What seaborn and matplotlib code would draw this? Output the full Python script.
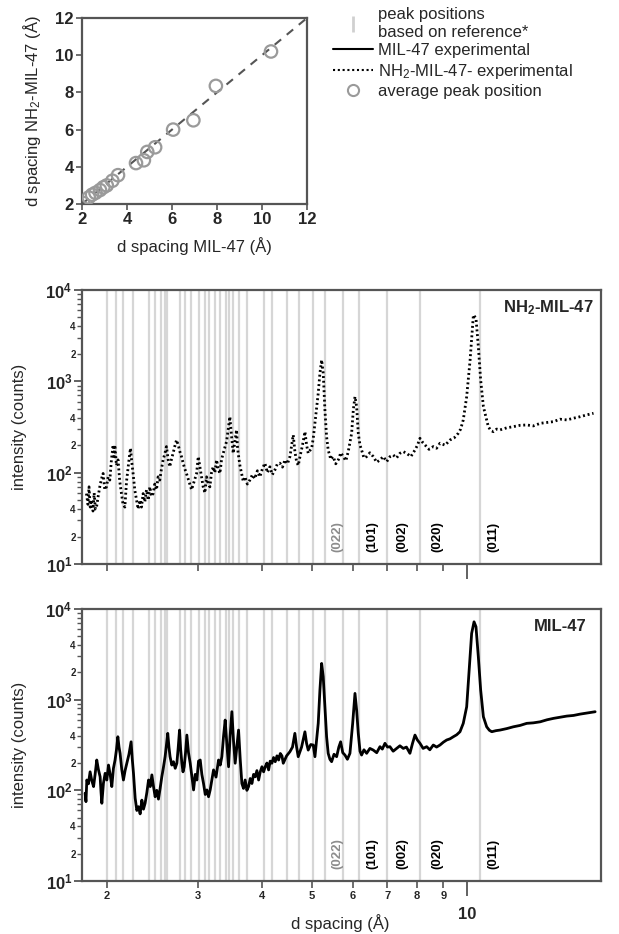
import numpy as np
import pandas as pd
import matplotlib
matplotlib.use("Agg")
import matplotlib.pyplot as plt
import matplotlib.ticker as mticker
from matplotlib.lines import Line2D
import seaborn as sns

sns.set_style("ticks")
plt.rcParams['font.family'] = ['Liberation Sans', 'DejaVu Sans']
plt.rcParams['mathtext.fontset'] = 'custom'
plt.rcParams['mathtext.rm'] = 'Liberation Sans'
plt.rcParams['mathtext.it'] = 'Liberation Sans:italic'
plt.rcParams['mathtext.bf'] = 'Liberation Sans:bold'

# ---- data ----
# average peak positions (d spacing, Angstrom)
avg_mil47 = [2.05, 2.3, 2.45, 2.6, 2.8, 2.95, 3.1, 3.35, 3.6, 4.4, 4.75, 4.9, 5.25, 6.05, 6.95, 7.95, 10.4]
avg_nh2 = [2.05, 2.35, 2.5, 2.6, 2.75, 2.9, 3.0, 3.25, 3.55, 4.2, 4.35, 4.8, 5.05, 6.0, 6.5, 8.35, 10.2]
parity = [2, 12]

# reference peak positions
peak_lines = [2.003, 2.088, 2.151, 2.249, 2.41, 2.482, 2.55, 2.588, 2.612, 2.772, 2.838, 2.908,
              3.013, 3.095, 3.151, 3.246, 3.314, 3.405, 3.446, 3.518, 3.614, 3.746, 4.036, 4.182,
              4.479, 4.726, 5.016, 5.30, 5.744, 6.16, 7.00, 8.107, 10.60]

hkl_labels = ['(022)', '(101)', '(002)', '(020)', '(011)']
hkl_d = [5.61, 6.54, 7.48, 8.76, 11.26]
hkl_colors = ['#8c8c8c', 'black', 'black', 'black', 'black']

# MIL-47 experimental pattern
mil_d = [1.815, 1.822, 1.829, 1.842, 1.856, 1.870, 1.885, 1.898, 1.912, 1.926, 1.941, 1.949, 1.956,
         1.970, 1.985, 2.000, 2.015, 2.030, 2.045, 2.060, 2.075, 2.088, 2.101, 2.112, 2.122, 2.138,
         2.154, 2.170, 2.187, 2.208, 2.229, 2.241, 2.253, 2.262, 2.270, 2.287, 2.304, 2.321, 2.339,
         2.356, 2.373, 2.392, 2.410, 2.428, 2.446, 2.464, 2.482, 2.500, 2.519, 2.538, 2.557, 2.576,
         2.595, 2.610, 2.626, 2.640, 2.653, 2.674, 2.694, 2.715, 2.735, 2.752, 2.768, 2.782, 2.797,
         2.811, 2.826, 2.843, 2.860, 2.881, 2.903, 2.925, 2.947, 2.969, 2.991, 3.013, 3.036, 3.058,
         3.081, 3.105, 3.128, 3.151, 3.174, 3.198, 3.222, 3.258, 3.295, 3.320, 3.344, 3.370, 3.394,
         3.420, 3.446, 3.470, 3.497, 3.523, 3.549, 3.576, 3.603, 3.630, 3.657, 3.684, 3.711, 3.740,
         3.768, 3.796, 3.825, 3.853, 3.882, 3.911, 3.941, 3.970, 4.000, 4.030, 4.059, 4.090, 4.121,
         4.150, 4.182, 4.213, 4.245, 4.278, 4.310, 4.342, 4.374, 4.400, 4.466, 4.533, 4.585, 4.634,
         4.670, 4.704, 4.775, 4.847, 4.883, 4.919, 4.975, 5.030, 5.069, 5.144, 5.183, 5.223, 5.260,
         5.300, 5.340, 5.378, 5.42, 5.461, 5.52, 5.585, 5.64, 5.686, 5.74, 5.796, 5.86, 5.927, 6.000,
         6.062, 6.107, 6.152, 6.20, 6.244, 6.31, 6.387, 6.48, 6.578, 6.68, 6.778, 6.85, 6.931, 7.01,
         7.087, 7.19, 7.303, 7.41, 7.522, 7.63, 7.749, 7.84, 7.926, 8.01, 8.105, 8.22, 8.351, 8.47,
         8.602, 8.73, 8.863, 9.0, 9.132, 9.27, 9.408, 9.55, 9.692, 9.835, 9.986, 10.14, 10.21, 10.32,
         10.41, 10.52, 10.63, 10.76, 10.92, 11.05, 11.17, 11.38, 11.59, 11.95, 12.30, 12.68, 13.06,
         13.45, 13.87, 14.3, 14.72, 15.15, 15.62, 16.1, 16.58, 17.15, 17.73]
mil_i = [93, 75, 130, 118, 160, 128, 110, 150, 216, 170, 141, 95, 72,
         120, 154, 130, 190, 150, 110, 175, 216, 280, 390, 300, 256, 170,
         130, 165, 199, 250, 343, 220, 154, 110, 82, 60, 66, 55, 78,
         62, 72, 95, 130, 110, 148, 110, 85, 100, 80, 105, 141, 180,
         235, 310, 425, 300, 235, 190, 207, 175, 199, 300, 462, 280, 199,
         160, 182, 260, 407, 260, 199, 140, 101, 150, 130, 210, 216, 150,
         119, 90, 101, 85, 101, 130, 168, 140, 216, 190, 235, 400, 596,
         320, 182, 400, 737, 350, 199, 300, 462, 220, 119, 105, 130, 100,
         110, 135, 119, 150, 141, 165, 130, 160, 182, 160, 182, 200, 168,
         210, 199, 230, 207, 240, 216, 255, 240, 199, 240, 267, 300, 425,
         300, 235, 300, 442, 330, 278, 320, 316, 235, 548, 1276, 2510, 1790,
         835, 390, 256, 220, 207, 250, 235, 300, 343, 260, 245, 220, 256, 548,
         1172, 767, 425, 270, 245, 280, 256, 290, 278, 260, 303, 285, 330, 300,
         303, 270, 290, 310, 290, 300, 256, 330, 407, 360, 330, 290, 303, 280,
         316, 300, 316, 340, 359, 370, 390, 410, 443, 548, 835, 2974, 5380, 7220,
         6370, 2974, 1276, 648, 502, 460, 443, 455, 462, 480, 502, 520, 548,
         555, 570, 600, 622, 640, 659, 670, 693, 715, 736]

# NH2-MIL-47 experimental pattern
nh2_d = [1.826, 1.838, 1.847, 1.857, 1.867, 1.880, 1.890, 1.900, 1.910, 1.924, 1.938, 1.952, 1.967,
         1.982, 1.997, 2.012, 2.027, 2.042, 2.057, 2.065, 2.073, 2.088, 2.103, 2.119, 2.135, 2.150,
         2.168, 2.184, 2.200, 2.212, 2.223, 2.236, 2.249, 2.266, 2.284, 2.300, 2.318, 2.335, 2.352,
         2.370, 2.388, 2.406, 2.424, 2.442, 2.460, 2.478, 2.497, 2.515, 2.534, 2.553, 2.572, 2.591,
         2.611, 2.630, 2.650, 2.670, 2.689, 2.710, 2.731, 2.752, 2.772, 2.792, 2.813, 2.834, 2.855,
         2.888, 2.921, 2.954, 2.987, 3.009, 3.031, 3.053, 3.076, 3.100, 3.123, 3.146, 3.170, 3.193,
         3.217, 3.241, 3.266, 3.290, 3.315, 3.340, 3.364, 3.390, 3.415, 3.440, 3.466, 3.492, 3.518,
         3.545, 3.571, 3.584, 3.597, 3.625, 3.653, 3.680, 3.707, 3.748, 3.790, 3.833, 3.876, 3.920,
         3.963, 4.008, 4.053, 4.099, 4.145, 4.190, 4.238, 4.286, 4.335, 4.384, 4.433, 4.483, 4.533,
         4.567, 4.600, 4.635, 4.670, 4.705, 4.741, 4.795, 4.848, 4.884, 4.919, 4.957, 4.995, 5.032,
         5.069, 5.144, 5.183, 5.223, 5.260, 5.300, 5.340, 5.378, 5.44, 5.500, 5.563, 5.626, 5.69,
         5.752, 5.82, 5.882, 5.972, 6.017, 6.062, 6.107, 6.152, 6.20, 6.244, 6.31, 6.387, 6.48,
         6.578, 6.68, 6.778, 6.88, 6.985, 7.09, 7.193, 7.30, 7.411, 7.52, 7.635, 7.78, 7.926, 8.015,
         8.105, 8.20, 8.289, 8.44, 8.602, 8.73, 8.863, 9.07, 9.27, 9.44, 9.618, 9.72, 9.835, 9.986,
         10.14, 10.29, 10.41, 10.52, 10.63, 10.76, 11.00, 11.12, 11.25, 11.42, 11.59, 11.95, 12.30,
         12.68, 13.06, 13.45, 13.87, 14.3, 14.72, 15.15, 15.62, 16.1, 16.58, 17.1, 17.60]
nh2_i = [59, 45, 70, 42, 50, 38, 60, 40, 42, 55, 70, 85, 98,
         65, 70, 90, 83, 140, 201, 150, 201, 120, 138, 80, 59, 45,
         42, 80, 116, 150, 185, 130, 98, 65, 50, 40, 50, 42, 59,
         48, 65, 50, 70, 55, 59, 75, 65, 90, 83, 110, 138, 160,
         193, 140, 116, 140, 163, 195, 228, 200, 170, 150, 127, 110, 98,
         80, 65, 80, 98, 150, 116, 90, 70, 60, 90, 75, 70, 100,
         116, 100, 138, 110, 98, 140, 163, 190, 219, 300, 410, 250, 163,
         220, 294, 200, 163, 120, 98, 80, 90, 75, 83, 95, 86, 105,
         90, 110, 127, 100, 116, 95, 107, 125, 127, 115, 138, 125, 150,
         200, 259, 170, 132, 120, 150, 200, 281, 200, 163, 175, 185, 240,
         347, 741, 1227, 1715, 1227, 486, 248, 177, 140, 150, 125, 138, 165,
         150, 135, 170, 270, 486, 680, 529, 270, 200, 177, 145, 150, 165,
         150, 130, 138, 150, 132, 150, 156, 145, 163, 170, 163, 150, 177, 200,
         238, 215, 201, 180, 193, 185, 210, 200, 228, 240, 270, 300, 378, 680,
         1715, 5330, 4910, 2400, 1035, 529, 319, 290, 281, 300, 294, 310, 319,
         330, 333, 325, 347, 355, 362, 385, 378, 395, 410, 430, 447]

mil = pd.DataFrame({'d': mil_d, 'counts': mil_i})
nh2 = pd.DataFrame({'d': nh2_d, 'counts': nh2_i})

# ---- figure ----
W, H = 619, 934
fig = plt.figure(figsize=(W / 100, H / 100), dpi=100)
spine_c = '#555555'


def px_axes(l, t, r, b):
    return fig.add_axes([l / W, 1 - b / H, (r - l) / W, (b - t) / H])


def style_spines(ax):
    for s in ax.spines.values():
        s.set_visible(True)
        s.set_color(spine_c)
        s.set_linewidth(1.6)


# parity plot
ax0 = px_axes(82, 18, 307, 204)
sns.lineplot(x=parity, y=parity, ax=ax0, color='#555555', lw=1.5, linestyle=(0, (4, 3.5)))
sns.scatterplot(x=avg_mil47, y=avg_nh2, ax=ax0, marker='o', s=80, facecolors='none',
                edgecolor='#9a9a9a', linewidth=1.6, zorder=3)
ax0.set_xlim(2, 12)
ax0.set_ylim(2, 12)
ax0.set_xticks([2, 4, 6, 8, 10, 12])
ax0.set_yticks([2, 4, 6, 8, 10, 12])
style_spines(ax0)
ax0.tick_params(direction='out', length=4, width=1.2, color=spine_c, labelsize=12, pad=2)
for lab in ax0.get_xticklabels() + ax0.get_yticklabels():
    lab.set_fontweight('bold')
ax0.set_xlabel('d spacing MIL-47 (Å)', fontsize=12)
ax0.set_ylabel(r'd spacing NH$_2$-MIL-47 (Å)', fontsize=12)
ax0.xaxis.set_label_coords(0.5, -0.18)
ax0.yaxis.set_label_coords(-0.175, 0.5)

# legend
handles = [Line2D([], [], color='#d0d0d0', marker='|', ls='none', ms=11, mew=2),
           Line2D([], [], color='black', lw=1.5),
           Line2D([], [], color='black', lw=1.5, ls=(0, (1, 1.3))),
           Line2D([], [], marker='o', ls='none', mfc='none', mec='#9a9a9a', ms=8, mew=1.5)]
labels = ['peak positions\nbased on reference*', 'MIL-47 experimental',
          r'NH$_2$-MIL-47- experimental', 'average peak position']
fig.legend(handles, labels, loc='upper left', bbox_to_anchor=(0.538, 0.992), frameon=False,
           fontsize=12, handlelength=2.4, handletextpad=0.3, labelspacing=0.2,
           borderaxespad=0, borderpad=0)


def major_fmt(v, pos):
    return r'$\mathbf{10}^{\mathbf{%d}}$' % round(np.log10(v))


def minor_fmt(v, pos):
    m = round(v / 10 ** np.floor(np.log10(v) + 1e-9))
    return str(m) if m in (2, 4) else ''


def spectrum_axes(ax, show_xlabels):
    ax.set_xscale('log')
    ax.set_yscale('log')
    ax.set_xlim(1.79, 18.2)
    ax.set_ylim(10, 1e4)
    for d in peak_lines:
        ax.axvline(d, color='#d6d6d6', lw=1.6, zorder=0)
    for lab, d, c in zip(hkl_labels, hkl_d, hkl_colors):
        ax.text(d, 0.1, lab, transform=ax.get_xaxis_transform(), rotation=90, ha='center',
                va='center', fontsize=9.5, fontweight='bold', color=c)
    ax.xaxis.set_major_locator(mticker.FixedLocator([10]))
    ax.xaxis.set_minor_locator(mticker.FixedLocator([2, 3, 4, 5, 6, 7, 8, 9]))
    ax.xaxis.set_major_formatter(mticker.FixedFormatter(['10']))
    ax.xaxis.set_minor_formatter(mticker.FixedFormatter(['2', '3', '4', '5', '6', '7', '8', '9']))
    ax.yaxis.set_major_locator(mticker.LogLocator(base=10, numticks=10))
    ax.yaxis.set_minor_locator(mticker.LogLocator(base=10, subs=range(2, 10), numticks=10))
    ax.yaxis.set_major_formatter(mticker.FuncFormatter(major_fmt))
    ax.yaxis.set_minor_formatter(mticker.FuncFormatter(minor_fmt))
    style_spines(ax)
    ax.tick_params(axis='x', which='major', direction='out', length=11, width=1.3,
                   color=spine_c, labelsize=12, pad=8)
    ax.tick_params(axis='x', which='minor', direction='out', length=5, width=1.2,
                   color=spine_c, labelsize=8, pad=2)
    ax.tick_params(axis='y', which='major', direction='out', length=6, width=1.3,
                   color=spine_c, labelsize=12, pad=1)
    ax.tick_params(axis='y', which='minor', direction='out', length=3.5, width=1.0,
                   color=spine_c, labelsize=7, pad=1)
    if not show_xlabels:
        ax.tick_params(axis='x', which='both', labelbottom=False)
    for lab in ax.get_xticklabels(which='both') + ax.get_yticklabels(which='minor'):
        lab.set_fontweight('bold')
    ax.set_ylabel('intensity (counts)', fontsize=12)
    ax.yaxis.set_label_coords(-0.106, 0.5)


# NH2-MIL-47 panel
ax1 = px_axes(82, 290, 601, 564)
sns.lineplot(data=nh2, x='d', y='counts', ax=ax1, color='black', lw=2.0,
             linestyle=(0, (0.7, 1.0)), estimator=None, sort=False)
spectrum_axes(ax1, False)
ax1.set_xlabel('')
ax1.text(0.985, 0.934, r'NH$_\mathbf{2}$-MIL-47', transform=ax1.transAxes, ha='right',
         va='center', fontsize=12, fontweight='bold')

# MIL-47 panel
ax2 = px_axes(82, 609, 601, 881)
sns.lineplot(data=mil, x='d', y='counts', ax=ax2, color='black', lw=2.0,
             estimator=None, sort=False)
spectrum_axes(ax2, True)
ax2.set_xlabel('d spacing (Å)', fontsize=12)
ax2.xaxis.set_label_coords(0.497, -0.12)
ax2.text(0.973, 0.934, 'MIL-47', transform=ax2.transAxes, ha='right', va='center',
         fontsize=12, fontweight='bold')

fig.savefig('out.png', dpi=100)
